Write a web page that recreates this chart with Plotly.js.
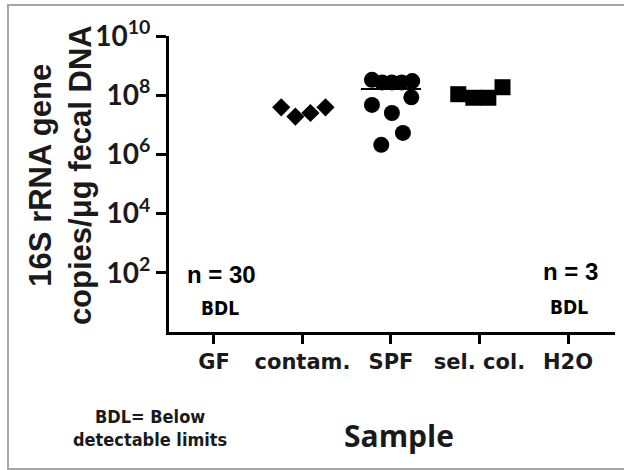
<!DOCTYPE html>
<html>
<head>
<meta charset="utf-8">
<script src="https://cdn.plot.ly/plotly-3.0.1.min.js"></script>
<style>
html,body{margin:0;padding:0;background:#fff;}
#wrap{position:relative;width:624px;height:470px;overflow:hidden;}
#chart{position:absolute;left:0;top:0;width:624px;height:470px;}
#frame{position:absolute;left:7px;top:4px;width:700px;height:466px;box-sizing:border-box;border:2px solid #a6a6a6;pointer-events:none;}
</style>
</head>
<body>
<div id="wrap"><div id="chart"></div><div id="frame"></div></div>
<script>
// ---- data ----
const categories = ['GF', 'contam.', 'SPF', 'sel. col.', 'H2O'];
const contamValues = [3.9e7, 1.9e7, 2.5e7, 3.9e7];
const contamOffsets = [-0.24, -0.08, 0.09, 0.26];
const spfValues = [3.3e8, 2.7e8, 2.7e8, 2.7e8, 3.0e8, 8.5e7, 4.7e7, 2.5e7, 5.3e6, 2.1e6];
const spfOffsets = [-0.215, -0.10, 0.01, 0.12, 0.24, 0.23, -0.215, 0.01, 0.135, -0.11];
const selColValues = [1.08e8, 8.2e7, 8.2e7, 1.86e8];
const selColOffsets = [-0.24, -0.07, 0.10, 0.26];
const yTickVals = [1e2, 1e4, 1e6, 1e8, 1e10];
const yTickText = ['10<sup>2</sup>', '10<sup>4</sup>', '10<sup>6</sup>', '10<sup>8</sup>', '10<sup>10</sup>'];
const gfN = 30;
const h2oN = 3;

const idx = name => categories.indexOf(name);
const place = (name, offs) => offs.map(o => idx(name) + o);
const spfMean = spfValues.reduce((a, b) => a + b, 0) / spfValues.length;

const traces = [
  {x: place('contam.', contamOffsets), y: contamValues, type: 'scatter', mode: 'markers',
   marker: {symbol: 'diamond', size: 14, color: '#000', line: {width: 0}}},
  {x: place('SPF', spfOffsets), y: spfValues, type: 'scatter', mode: 'markers',
   marker: {symbol: 'circle', size: 16, color: '#000', line: {width: 0}}},
  {x: place('sel. col.', selColOffsets), y: selColValues, type: 'scatter', mode: 'markers',
   marker: {symbol: 'square', size: 16, color: '#000', line: {width: 0}}},
  {x: [idx('SPF') - 0.34, idx('SPF') + 0.34], y: [spfMean, spfMean], type: 'scatter', mode: 'lines',
   line: {color: '#000', width: 2}}
];

const bdlFont = {family: 'DejaVu Sans Condensed, DejaVu Sans, sans-serif', size: 19, color: '#000', weight: 'bold'};
const nFont = {family: 'Liberation Sans, Arial, sans-serif', size: 24, color: '#000', weight: 'bold'};

const layout = {
  width: 624, height: 470,
  margin: {l: 169, r: 9, t: 36, b: 138},
  paper_bgcolor: '#fff', plot_bgcolor: '#fff',
  showlegend: false,
  xaxis: {
    type: 'linear', range: [-0.508, 4.531],
    tickmode: 'array', tickvals: categories.map((c, i) => i), ticktext: categories,
    ticks: 'outside', ticklen: 9, tickwidth: 3, tickcolor: '#000',
    showline: true, linewidth: 3, linecolor: '#000',
    showgrid: false, zeroline: false,
    tickfont: {family: 'DejaVu Sans, sans-serif', size: 21, color: '#1a1a1a', weight: 'bold'}
  },
  yaxis: {
    type: 'log', range: [0, 10],
    tickmode: 'array', tickvals: yTickVals, ticktext: yTickText,
    ticks: 'outside', ticklen: 10, tickwidth: 3, tickcolor: '#000',
    showline: true, linewidth: 3, linecolor: '#000',
    showgrid: false, zeroline: false,
    tickfont: {family: 'Lato, sans-serif', size: 28, color: '#1a1a1a', weight: 'bold'}
  },
  annotations: [
    {xref: 'x', yref: 'paper', x: idx('GF'), xshift: 8, y: 0.1926, text: 'n = ' + gfN, showarrow: false,
     xanchor: 'center', yanchor: 'middle', font: nFont},
    {xref: 'x', yref: 'paper', x: idx('GF'), xshift: 6, y: 0.081, text: 'BDL', showarrow: false,
     xanchor: 'center', yanchor: 'middle', font: bdlFont},
    {xref: 'x', yref: 'paper', x: idx('H2O'), xshift: 2, y: 0.206, text: 'n = ' + h2oN, showarrow: false,
     xanchor: 'center', yanchor: 'middle', font: nFont},
    {xref: 'x', yref: 'paper', x: idx('H2O'), xshift: 1, y: 0.0845, text: 'BDL', showarrow: false,
     xanchor: 'center', yanchor: 'middle', font: bdlFont},
    {xref: 'paper', yref: 'paper', x: 0.5157, y: -0.348, text: 'Sample', showarrow: false,
     xanchor: 'center', yanchor: 'middle',
     font: {family: 'Open Sans, sans-serif', size: 30, color: '#1a1a1a', weight: 'bold'}},
    {xref: 'paper', yref: 'paper', x: -0.0426, y: -0.324, text: 'BDL= Below<br>detectable limits', showarrow: false,
     xanchor: 'center', yanchor: 'middle', align: 'center',
     font: {family: 'DejaVu Sans Condensed, DejaVu Sans, sans-serif', size: 18, color: '#1a1a1a', weight: 'bold'}},
    {xref: 'paper', yref: 'paper', x: -0.2444, y: 0.53, text: '16S rRNA gene<br>copies/μg fecal DNA', showarrow: false,
     textangle: -90, xanchor: 'center', yanchor: 'middle', align: 'center',
     font: {family: 'Liberation Sans, Arial, sans-serif', size: 31, color: '#1a1a1a', weight: 'bold'}}
  ]
};

Plotly.newPlot('chart', traces, layout, {staticPlot: true, displayModeBar: false});
</script>
</body>
</html>
